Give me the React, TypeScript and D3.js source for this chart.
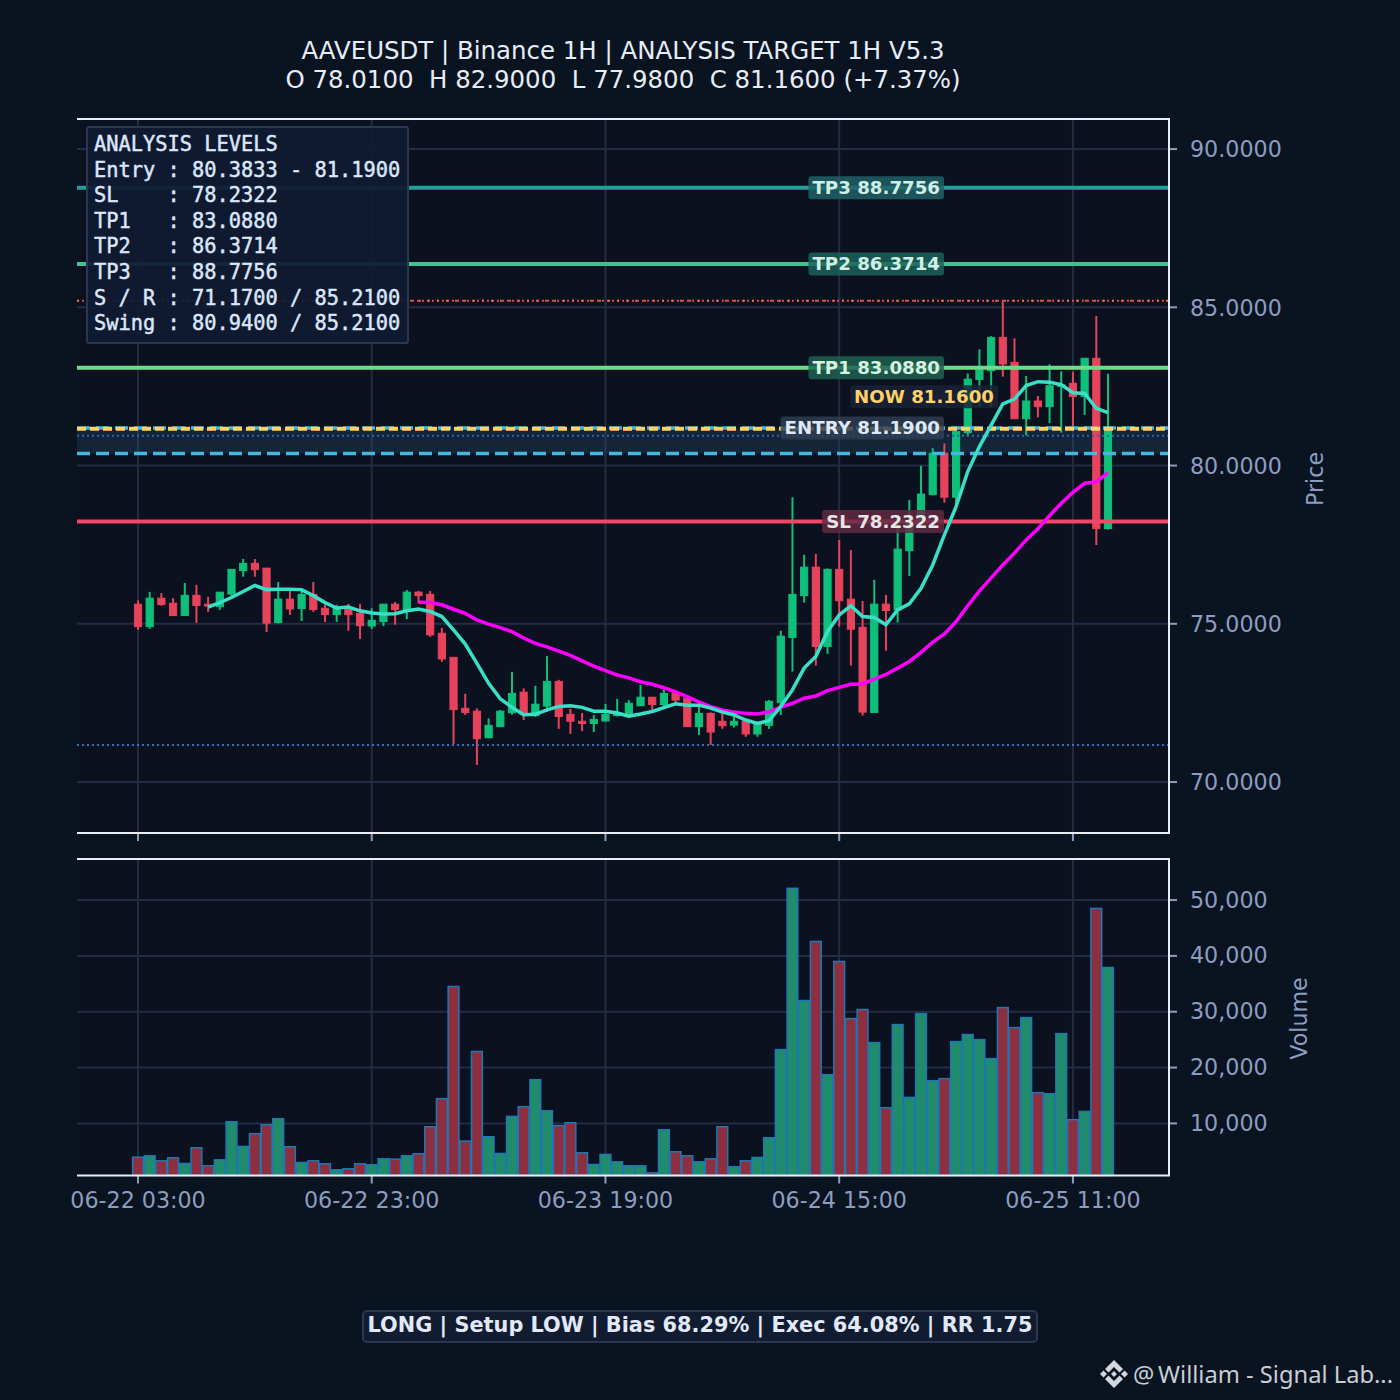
import { useEffect, useRef } from 'react';
import * as d3 from 'd3';

const opens = [75.62, 74.91, 75.81, 75.65, 75.26, 75.9, 75.62, 75.54, 75.94, 76.68, 76.91, 76.76, 75.04, 75.78, 75.48, 75.93, 75.49, 75.29, 75.47, 75.33, 74.93, 75.07, 75.62, 75.45, 76.0, 75.93, 74.7, 73.94, 72.33, 72.24, 71.4, 71.75, 72.19, 72.84, 72.1, 72.4, 73.18, 72.14, 71.92, 71.85, 71.93, 72.1, 72.12, 72.41, 72.68, 72.45, 72.8, 72.65, 71.75, 72.17, 71.92, 71.8, 71.92, 71.52, 71.79, 72.51, 74.57, 75.89, 76.79, 74.28, 76.72, 75.78, 74.89, 72.2, 75.62, 75.44, 77.31, 78.18, 79.08, 80.39, 79.0, 81.04, 82.72, 83.0, 84.05, 83.26, 81.48, 82.04, 81.86, 82.5, 82.6, 82.18, 83.39, 78.01];
const highs = [75.74, 76.01, 75.97, 75.81, 76.29, 76.23, 75.85, 76.0, 76.72, 77.05, 77.05, 76.76, 76.32, 76.07, 76.07, 76.32, 75.6, 75.6, 75.63, 75.63, 75.49, 75.62, 75.69, 76.07, 76.04, 76.04, 74.87, 73.94, 72.79, 72.33, 72.01, 72.28, 73.48, 72.96, 73.04, 73.98, 73.23, 72.31, 72.18, 72.12, 72.47, 72.63, 72.59, 73.07, 72.68, 72.91, 72.91, 72.65, 72.38, 72.2, 72.17, 72.07, 71.96, 71.91, 72.59, 74.78, 79.0, 77.18, 77.21, 76.75, 77.65, 77.33, 75.72, 76.39, 75.91, 78.18, 78.91, 79.99, 80.55, 80.7, 81.1, 82.91, 83.67, 84.09, 85.18, 84.02, 82.83, 82.2, 83.2, 82.98, 82.96, 83.39, 84.73, 82.9];
const lows = [74.81, 74.84, 75.57, 75.26, 75.26, 75.03, 75.38, 75.44, 75.88, 76.49, 76.49, 74.74, 75.01, 75.28, 75.09, 75.38, 75.06, 75.06, 74.78, 74.52, 74.84, 74.93, 74.97, 75.15, 75.65, 74.59, 73.8, 71.2, 72.12, 70.54, 71.4, 71.75, 72.13, 71.96, 72.06, 72.21, 71.68, 71.52, 71.61, 71.58, 71.91, 72.07, 72.06, 72.41, 72.28, 72.4, 72.49, 71.75, 71.49, 71.17, 71.68, 71.72, 71.43, 71.43, 71.68, 72.12, 73.49, 75.67, 73.68, 74.05, 74.91, 73.68, 72.1, 72.18, 74.15, 75.04, 76.51, 78.01, 79.06, 78.83, 78.65, 80.91, 81.86, 81.86, 82.81, 81.48, 80.95, 81.52, 81.34, 81.04, 81.25, 81.6, 77.49, 77.98];
const closes = [74.91, 75.81, 75.61, 75.26, 75.9, 75.58, 75.56, 76.0, 76.72, 76.91, 76.71, 75.02, 75.78, 75.47, 75.93, 75.45, 75.29, 75.49, 75.29, 74.94, 75.11, 75.62, 75.45, 76.0, 75.89, 74.65, 73.89, 72.29, 72.2, 71.37, 71.79, 72.24, 72.8, 72.14, 72.46, 73.18, 72.07, 71.92, 71.85, 71.98, 72.14, 72.2, 72.49, 72.68, 72.45, 72.8, 72.59, 71.75, 72.17, 71.58, 71.78, 71.92, 71.52, 71.83, 72.55, 74.61, 75.93, 76.79, 74.28, 76.72, 75.73, 74.83, 72.21, 75.62, 75.42, 77.36, 78.18, 79.1, 80.39, 79.0, 81.07, 82.73, 83.02, 84.05, 83.21, 81.48, 82.04, 81.86, 82.52, 82.55, 82.18, 83.39, 78.01, 81.16];
const volumes = [3950, 4200, 3300, 3840, 2820, 5640, 2400, 3480, 10300, 5880, 8150, 9760, 10840, 5820, 3000, 3300, 2770, 1690, 1870, 2770, 2590, 3660, 3600, 4200, 4560, 9400, 14430, 34520, 6830, 22880, 7610, 4620, 11250, 12990, 17830, 12270, 9580, 10120, 4740, 2640, 4440, 3120, 2410, 2410, 1150, 8860, 4920, 4200, 3120, 3660, 9400, 2230, 3300, 3900, 7430, 23220, 52100, 32000, 42590, 18730, 39000, 28770, 30390, 24470, 12810, 27700, 14660, 29670, 17650, 18010, 24650, 25910, 25010, 21600, 30750, 27160, 28950, 15500, 15320, 26080, 10660, 12150, 48500, 37920];

// fast average starts at candle 6, slow one at candle 24
const fastStart = 6;
const fastLine = [75.53, 75.67, 75.83, 76.02, 76.21, 76.08, 76.09, 76.09, 76.08, 75.89, 75.67, 75.5, 75.53, 75.41, 75.34, 75.31, 75.32, 75.41, 75.47, 75.39, 75.23, 74.81, 74.36, 73.75, 73.12, 72.63, 72.36, 72.13, 72.14, 72.28, 72.39, 72.41, 72.36, 72.24, 72.24, 72.18, 72.08, 72.15, 72.23, 72.35, 72.47, 72.43, 72.43, 72.34, 72.21, 72.12, 71.96, 71.85, 71.94, 72.39, 72.91, 73.6, 73.97, 74.76, 75.28, 75.57, 75.23, 75.2, 74.97, 75.44, 75.63, 76.12, 76.86, 77.81, 78.7, 79.81, 80.6, 81.28, 81.95, 82.1, 82.53, 82.65, 82.63, 82.56, 82.3, 82.28, 81.81, 81.67];
const slowStart = 24;
const slowLine = [75.68, 75.67, 75.6, 75.46, 75.33, 75.12, 74.99, 74.88, 74.75, 74.55, 74.38, 74.27, 74.14, 74.0, 73.83, 73.66, 73.52, 73.38, 73.29, 73.17, 73.09, 72.98, 72.85, 72.7, 72.53, 72.38, 72.28, 72.21, 72.17, 72.15, 72.22, 72.37, 72.49, 72.65, 72.72, 72.89, 72.99, 73.09, 73.1, 73.25, 73.4, 73.6, 73.81, 74.1, 74.42, 74.68, 75.07, 75.57, 76.04, 76.45, 76.86, 77.24, 77.65, 78.0, 78.42, 78.81, 79.15, 79.44, 79.48, 79.78];

const priceTicks = [70, 75, 80, 85, 90];
const volumeTicks = [10000, 20000, 30000, 40000, 50000];
const timeTicks = [0, 20, 40, 60, 80];
const timeLabels = ['06-22 03:00', '06-22 23:00', '06-23 19:00', '06-24 15:00', '06-25 11:00'];

const entryLow = 80.3833;
const entryHigh = 81.19;
const nowPrice = 81.16;
const stopLoss = 78.2322;
const targets = [83.088, 86.3714, 88.7756];
const targetColors = ['#6fdc8c', '#45c08f', '#2a9d9a'];
const support = 71.17;
const resistance = 85.21;
const swingLow = 80.94;

const panelLines = [
  'ANALYSIS LEVELS',
  'Entry : 80.3833 - 81.1900',
  'SL    : 78.2322',
  'TP1   : 83.0880',
  'TP2   : 86.3714',
  'TP3   : 88.7756',
  'S / R : 71.1700 / 85.2100',
  'Swing : 80.9400 / 85.2100',
];

const SANS = '"DejaVu Sans", sans-serif';
const MONO = '"DejaVu Sans Mono", monospace';
const UP = '#10bf7a';
const DOWN = '#e8435c';
const GRID = '#232c44';
const TICK = '#8d9dc0';

export default function App() {
  const ref = useRef<SVGSVGElement>(null);

  useEffect(() => {
    if (!ref.current) return;
    const svg = d3.select(ref.current);
    svg.selectAll('*').remove();

    const left = 77;
    const right = 1169;
    const priceTop = 119;
    const priceBottom = 833;
    const volTop = 859;
    const volBottom = 1175.5;

    const x = d3.scaleLinear().domain([-5.22, 88.22]).range([left, right]);
    const y = d3.scaleLinear().domain([68.39, 90.95]).range([priceBottom, priceTop]);
    const yVol = d3.scaleLinear().domain([670, 57350]).range([volBottom, volTop]);

    svg.append('rect').attr('width', 1400).attr('height', 1400).attr('fill', '#0a1420');
    svg.append('rect').attr('x', left).attr('y', priceTop).attr('width', right - left).attr('height', priceBottom - priceTop).attr('fill', '#0b111e');
    svg.append('rect').attr('x', left).attr('y', volTop).attr('width', right - left).attr('height', volBottom - volTop).attr('fill', '#0b111e');

    // grids
    const grid = svg.append('g').attr('stroke', GRID).attr('stroke-width', 2);
    priceTicks.forEach(t => grid.append('line').attr('x1', left).attr('x2', right).attr('y1', y(t)).attr('y2', y(t)));
    volumeTicks.forEach(t => grid.append('line').attr('x1', left).attr('x2', right).attr('y1', yVol(t)).attr('y2', yVol(t)));
    timeTicks.forEach(t => {
      grid.append('line').attr('x1', x(t)).attr('x2', x(t)).attr('y1', priceTop).attr('y2', priceBottom);
      grid.append('line').attr('x1', x(t)).attr('x2', x(t)).attr('y1', volTop).attr('y2', volBottom);
    });

    // entry band
    svg.append('rect')
      .attr('x', left).attr('width', right - left)
      .attr('y', y(entryHigh)).attr('height', y(entryLow) - y(entryHigh))
      .attr('fill', '#25506e').attr('opacity', 0.32);

    // candles
    const idx = d3.range(closes.length);
    const isUp = (i: number) => closes[i] >= opens[i];
    const candles = svg.append('g');
    candles.selectAll('line').data(idx).enter().append('line')
      .attr('x1', i => x(i)).attr('x2', i => x(i))
      .attr('y1', i => y(highs[i])).attr('y2', i => y(lows[i]))
      .attr('stroke', i => (isUp(i) ? UP : DOWN))
      .attr('stroke-width', 2);
    candles.selectAll('rect').data(idx).enter().append('rect')
      .attr('x', i => x(i) - 3.6).attr('width', 7.2)
      .attr('y', i => y(Math.max(opens[i], closes[i])))
      .attr('height', i => Math.abs(y(opens[i]) - y(closes[i])))
      .attr('fill', i => (isUp(i) ? UP : DOWN))
      .attr('stroke', i => (isUp(i) ? UP : DOWN))
      .attr('stroke-width', 1);

    // level lines
    const hline = (v: number, color: string, w: number, dash?: string, op = 1) =>
      svg.append('line')
        .attr('x1', left).attr('x2', right).attr('y1', y(v)).attr('y2', y(v))
        .attr('stroke', color).attr('stroke-width', w).attr('opacity', op)
        .attr('stroke-dasharray', dash ?? null);

    hline(support, '#2f74c0', 2, '2 3');
    hline(swingLow, '#2f62c0', 2, '2 3');
    hline(resistance, '#e8435c', 2, '2 3');
    hline(resistance, '#e88a2c', 2, '2 7', 0.8);
    hline(entryLow, '#45b7e0', 3.5, '13 6');
    hline(entryHigh, '#45b7e0', 3.5, '13 6');
    hline(nowPrice, '#ffd166', 4, '9 4');
    hline(stopLoss, '#f0476a', 4);
    targets.forEach((t, i) => hline(t, targetColors[i], 4));

    // moving averages
    const line = d3.line<number[]>().x(d => x(d[0])).y(d => y(d[1]));
    const fastPts = fastLine.map((v, i) => [i + fastStart, v]);
    const slowPts = slowLine.map((v, i) => [i + slowStart, v]);
    svg.append('path').attr('d', line(slowPts)).attr('fill', 'none').attr('stroke', '#ff00ff').attr('stroke-width', 3.5);
    svg.append('path').attr('d', line(fastPts)).attr('fill', 'none').attr('stroke', '#39e0c8').attr('stroke-width', 3.5);

    // level labels
    const labels = [
      { text: 'TP3 88.7756', v: targets[2], fill: '#1f6266', color: '#cfeee6', end: 940, dy: 0 },
      { text: 'TP2 86.3714', v: targets[1], fill: '#1c625a', color: '#cfeee6', end: 940, dy: 0 },
      { text: 'TP1 83.0880', v: targets[0], fill: '#1f6252', color: '#d4f2df', end: 940, dy: 0 },
      { text: 'NOW 81.1600', v: nowPrice, fill: '#1a2338', color: '#ffd166', end: 994, dy: -32 },
      { text: 'ENTRY 81.1900', v: entryHigh, fill: '#2e3e52', color: '#dfe8f7', end: 940, dy: 0 },
      { text: 'SL 78.2322', v: stopLoss, fill: '#632b44', color: '#e6e6e6', end: 940, dy: 0 },
    ];
    labels.forEach(l => {
      const g = svg.append('g');
      const t = g.append('text')
        .attr('x', l.end).attr('y', y(l.v) + l.dy)
        .attr('dy', '0.36em').attr('text-anchor', 'end')
        .attr('font-family', SANS).attr('font-weight', 700).attr('font-size', 18.2)
        .attr('fill', l.color).text(l.text);
      const w = (t.node() as SVGTextElement).getComputedTextLength();
      g.insert('rect', 'text')
        .attr('x', l.end - w - 4).attr('width', w + 8)
        .attr('y', y(l.v) + l.dy - 11.5).attr('height', 23).attr('rx', 3)
        .attr('fill', l.fill).attr('fill-opacity', 0.84);
    });

    // analysis box
    svg.append('rect').attr('x', 87).attr('y', 127).attr('width', 321).attr('height', 216).attr('rx', 2)
      .attr('fill', '#101b31').attr('fill-opacity', 0.93).attr('stroke', '#2a3753').attr('stroke-width', 2);
    panelLines.forEach((t, i) => {
      svg.append('text').attr('x', 94).attr('y', 151 + i * 25.6)
        .attr('font-family', MONO).attr('font-size', 20.35).attr('fill', '#dbe6fb')
        .attr('stroke', '#dbe6fb').attr('stroke-width', 0.45)
        .style('white-space', 'pre').text(t);
    });

    // volume bars
    svg.append('g').selectAll('rect').data(idx).enter().append('rect')
      .attr('x', i => x(i) - 5.4).attr('width', 10.8)
      .attr('y', i => yVol(volumes[i]))
      .attr('height', i => volBottom - yVol(volumes[i]))
      .attr('fill', i => (isUp(i) ? '#208c6c' : '#8e2f40'))
      .attr('stroke', '#1f77b4').attr('stroke-width', 1.5);

    // axes
    const styleAxis = (g: any) => {
      g.select('.domain').remove();
      g.selectAll('line').attr('stroke', TICK).attr('stroke-width', 2);
      g.selectAll('text').attr('fill', TICK).attr('font-family', SANS).attr('font-size', 22.2);
    };
    const priceAxis = svg.append('g').attr('transform', `translate(${right},0)`)
      .call(d3.axisRight(y).tickValues(priceTicks).offset(0).tickSize(8).tickPadding(13).tickFormat(d3.format('.4f') as any))
      .call(styleAxis);
    priceAxis.selectAll('text').attr('y', 1.2);
    const volAxis = svg.append('g').attr('transform', `translate(${right},0)`)
      .call(d3.axisRight(yVol).tickValues(volumeTicks).offset(0).tickSize(8).tickPadding(13).tickFormat(d3.format(',') as any))
      .call(styleAxis);
    volAxis.selectAll('text').attr('y', 0.5);
    svg.append('g').attr('transform', `translate(0,${priceBottom})`)
      .call(d3.axisBottom(x).tickValues(timeTicks).offset(0).tickSize(8).tickFormat(() => ''))
      .call(styleAxis);
    svg.append('g').attr('transform', `translate(0,${volBottom})`)
      .call(d3.axisBottom(x).tickValues(timeTicks).offset(0).tickSize(8).tickPadding(9).tickFormat((_, i) => timeLabels[i]))
      .call(styleAxis);

    // spines
    const spine = svg.append('g').attr('stroke', '#e8edf5').attr('stroke-width', 2).attr('fill', 'none');
    spine.append('path').attr('d', `M${left},${priceTop}H${right}V${priceBottom}H${left}`);
    spine.append('path').attr('d', `M${left},${volTop}H${right}V${volBottom}H${left}`);

    // titles
    const text = (s: string, tx: number, ty: number, size: number, color: string, anchor = 'middle', family = SANS, weight = 400) =>
      svg.append('text').attr('x', tx).attr('y', ty).attr('font-size', size).attr('fill', color)
        .attr('text-anchor', anchor).attr('font-family', family).attr('font-weight', weight).text(s);
    text('AAVEUSDT | Binance 1H | ANALYSIS TARGET 1H V5.3', 623, 59, 24.45, '#e6edf8');
    text('O 78.0100  H 82.9000  L 77.9800  C 81.1600 (+7.37%)', 623, 88, 24.45, '#e6edf8').style('white-space', 'pre');

    text('Price', 0, 0, 22.2, TICK).attr('transform', 'translate(1323,479) rotate(-90)');
    text('Volume', 0, 0, 22.2, TICK).attr('transform', 'translate(1307,1018.5) rotate(-90)');

    // summary strip
    svg.append('rect').attr('x', 363).attr('y', 1311).attr('width', 674).attr('height', 31).attr('rx', 4)
      .attr('fill', '#111c30').attr('stroke', '#2a3753').attr('stroke-width', 2);
    text('LONG | Setup LOW | Bias 68.29% | Exec 64.08% | RR 1.75', 700, 1332, 20.83, '#e1e9f8', 'middle', SANS, 700);

    // watermark
    const mark = svg.append('g').attr('transform', 'translate(1114,1374)').attr('fill', '#d4d7de');
    mark.append('path').attr('d', 'M0,-14L9,-5L5.5,-1.5L0,-7L-5.5,-1.5L-9,-5Z');
    mark.append('path').attr('d', 'M0,14L9,5L5.5,1.5L0,7L-5.5,1.5L-9,5Z');
    mark.append('path').attr('d', 'M-14,0L-10.5,-3.5L-7,0L-10.5,3.5Z');
    mark.append('path').attr('d', 'M14,0L10.5,-3.5L7,0L10.5,3.5Z');
    mark.append('path').attr('d', 'M0,-3L3,0L0,3L-3,0Z');
    text('@', 1133, 1383, 23.7, '#c9cdd5', 'start', '"Noto Sans", sans-serif');
    text('William - Signal Lab...', 1158, 1383, 23.7, '#c9cdd5', 'start', '"Noto Sans", sans-serif');
  }, []);

  return <svg ref={ref} width={1400} height={1400} style={{ position: 'absolute', left: 0, top: 0 }} />;
}
